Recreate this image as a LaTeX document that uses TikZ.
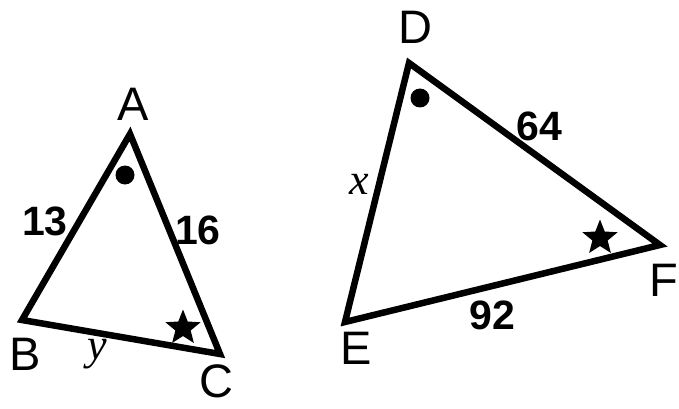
\documentclass[tikz,border=0pt]{standalone}
\usepackage{fontspec}
\setmainfont{Liberation Sans}
\newfontfamily\serifit{Liberation Serif}
\usetikzlibrary{shapes.geometric}
\begin{document}
\begin{tikzpicture}[x=1pt,y=-1pt,
  edge/.style={line width=6.5pt,line join=miter,line cap=round},
  vlbl/.style={inner sep=0pt,font=\fontsize{47}{47}\selectfont},
  num/.style={inner sep=0pt,font=\fontsize{41}{41}\selectfont\bfseries},
  var/.style={inner sep=0pt,font=\fontsize{44}{44}\selectfont\serifit\itshape},
  dotmark/.style={circle,fill=black,inner sep=0pt,minimum size=19pt},
  starmark/.style={star,star points=5,star point ratio=2.3,fill=black,inner sep=0pt,minimum size=37pt}]
\useasboundingbox (0,0) rectangle (679,409);
\fill[white] (0,0) rectangle (679,409);
% triangle ABC
\coordinate (A) at (130,134);
\coordinate (B) at (22,320);
\coordinate (C) at (220,354);
\draw[edge] (A) -- (B) -- (C) -- cycle;
\node[vlbl] (lA) at (133,104) {A};
\node[vlbl] (lB) at (25,354) {B};
\node[vlbl] (lC) at (216,381) {C};
\node[num] (n13) at (45,221) {13};
\node[num] (n16) at (198,230) {16};
\node[var] (vy) at (97,354) {y};
\node[dotmark] (dA) at (125,175) {};
\node[starmark] (sC) at (183,328) {};
% triangle DEF
\coordinate (D) at (409,63);
\coordinate (E) at (345,322);
\coordinate (F) at (660,245);
\draw[edge] (D) -- (E) -- (F) -- cycle;
\node[vlbl] (lD) at (415,27) {D};
\node[vlbl] (lE) at (356,348) {E};
\node[vlbl] (lF) at (664,280) {F};
\node[num] (n64) at (539,126) {64};
\node[num] (n92) at (492,315) {92};
\node[var] (vx) at (359,184) {x};
\node[dotmark] (dD) at (420,98) {};
\node[starmark] (sF) at (600,238) {};
\end{tikzpicture}
\end{document}
